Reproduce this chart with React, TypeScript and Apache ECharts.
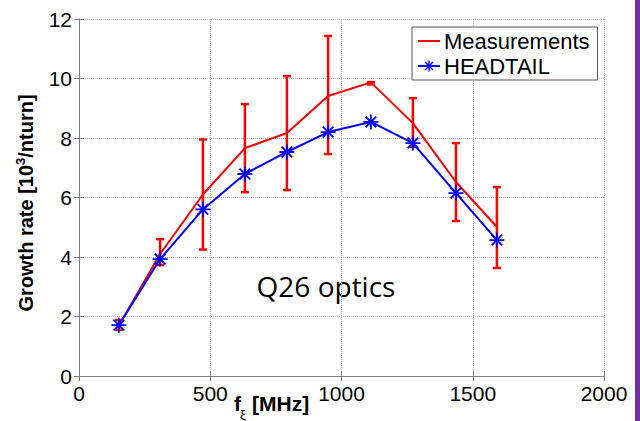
import React, { useEffect, useRef } from "react";
import * as echarts from "echarts";

const freqs = [152, 309, 472, 632, 792, 949, 1112, 1272, 1436, 1592];
const measured = [1.7, 4.1, 6.1, 7.66, 8.17, 9.41, 9.87, 8.5, 6.52, 5.01];
const errLow = [1.55, 3.73, 4.25, 6.18, 6.25, 7.46, 9.8, 7.7, 5.21, 3.63];
const errHigh = [1.88, 4.6, 7.95, 9.14, 10.08, 11.43, 9.88, 9.34, 7.83, 6.35];
const headtail = [1.71, 3.93, 5.6, 6.79, 7.53, 8.2, 8.54, 7.83, 6.15, 4.57];

const STAR =
  "path://M8.8 0L11.2 0L11.2 20L8.8 20Z M0 8.8L20 8.8L20 11.2L0 11.2Z " +
  "M3.75 2.05L17.95 16.25L16.25 17.95L2.05 3.75Z " +
  "M16.25 2.05L17.95 3.75L3.75 17.95L2.05 16.25Z";

const LINE_ICON =
  "path://M0 0L0.01 0L0.01 0.01Z M0 6L22 6L22 8L0 8Z M21.99 13.99L22 14L21.99 14Z";

export default function App() {
  const ref = useRef<HTMLDivElement>(null);
  useEffect(() => {
    if (!ref.current) return;
    const chart = echarts.init(ref.current, null, { renderer: "svg" });
    const tickFont = { fontFamily: "Liberation Sans, Arial, sans-serif", fontSize: 21, color: "#000" };
    const axisLine = { show: true, lineStyle: { color: "#7f7f7f", width: 1 } };
    const option: any = {
      animation: false,
      backgroundColor: "#fff",
      grid: { left: 79, right: 36, top: 19, bottom: 45, containLabel: false },
      legend: {
        orient: "vertical",
        left: 412,
        top: 27,
        width: 179,
        padding: [3, 8, 3, 5],
        itemGap: 3,
        itemWidth: 22,
        itemHeight: 14,
        backgroundColor: "#fff",
        borderColor: "#555",
        borderWidth: 1,
        borderRadius: 0,
        data: [{ name: "Measurements", icon: LINE_ICON }, { name: "HEADTAIL" }],
        textStyle: { fontFamily: "Liberation Sans, Arial, sans-serif", fontSize: 22, color: "#000", padding: [0, 0, 0, -1] },
      },
      xAxis: [
        {
          type: "value",
          min: 0,
          max: 2000,
          interval: 500,
          position: "bottom",
          axisLine,
          axisTick: { show: true, inside: true, length: 5, lineStyle: { color: "#7f7f7f" } },
          axisLabel: { ...tickFont, margin: 7, formatter: (v: number) => String(v) },
          splitLine: { show: true, lineStyle: { type: "dotted", color: "#b8b8b8", width: 1 } },
        },
        {
          type: "value",
          min: 0,
          max: 2000,
          interval: 500,
          position: "top",
          axisLine,
          axisTick: { show: true, inside: true, length: 5, lineStyle: { color: "#7f7f7f" } },
          axisLabel: { show: false },
          splitLine: { show: false },
        },
      ],
      yAxis: [
        {
          type: "value",
          min: 0,
          max: 12,
          interval: 2,
          position: "left",
          axisLine,
          axisTick: { show: true, inside: true, length: 5, lineStyle: { color: "#7f7f7f" } },
          axisLabel: { ...tickFont, margin: 7, formatter: (v: number) => String(v) },
          splitLine: { show: true, lineStyle: { type: "dotted", color: "#b8b8b8", width: 1 } },
        },
        {
          type: "value",
          min: 0,
          max: 12,
          interval: 2,
          position: "right",
          axisLine,
          axisTick: { show: true, inside: true, length: 5, lineStyle: { color: "#7f7f7f" } },
          axisLabel: { show: false },
          splitLine: { show: false },
        },
      ],
      series: [
        {
          name: "err",
          type: "custom",
          xAxisIndex: 0,
          yAxisIndex: 0,
          data: freqs.map((f, i) => [f, errLow[i], errHigh[i]]),
          renderItem: (params: any, api: any) => {
            const lo = api.coord([api.value(0), api.value(1)]);
            const hi = api.coord([api.value(0), api.value(2)]);
            const hw = 4;
            const style = { stroke: "#ff0000", lineWidth: 2.5 };
            return {
              type: "group",
              children: [
                { type: "line", shape: { x1: lo[0], y1: lo[1], x2: hi[0], y2: hi[1] }, style },
                { type: "line", shape: { x1: lo[0] - hw, y1: lo[1], x2: lo[0] + hw, y2: lo[1] }, style },
                { type: "line", shape: { x1: hi[0] - hw, y1: hi[1], x2: hi[0] + hw, y2: hi[1] }, style },
              ],
            };
          },
          z: 2,
        },
        {
          name: "Measurements",
          type: "line",
          data: freqs.map((f, i) => [f, measured[i]]),
          symbol: "none",
          lineStyle: { color: "#ff0000", width: 2 },
          itemStyle: { color: "#ff0000" },
          z: 3,
        },
        {
          name: "HEADTAIL",
          type: "line",
          data: freqs.map((f, i) => [f, headtail[i]]),
          symbol: STAR,
          symbolSize: 15,
          lineStyle: { color: "#0000ff", width: 2 },
          itemStyle: { color: "#0000ff" },
          z: 4,
        },
      ],
      graphic: [
        {
          type: "text",
          x: 26,
          y: 203,
          rotation: Math.PI / 2,
          style: {
            text: "{a|Growth rate [10}{s|3}{a|/nturn]}",
            textAlign: "center",
            textVerticalAlign: "middle",
            rich: {
              a: { fontFamily: "Liberation Sans, Arial, sans-serif", fontSize: 20, fontWeight: "bold", fill: "#000", lineHeight: 24 },
              s: { fontFamily: "Liberation Sans, Arial, sans-serif", fontSize: 13, fontWeight: "bold", fill: "#000", verticalAlign: "top", lineHeight: 24, padding: [0, 0, 10, 0] },
            },
          },
        },
        {
          type: "text",
          x: 234,
          y: 403,
          style: {
            text: "f",
            fontFamily: "Liberation Sans, Arial, sans-serif",
            fontSize: 21,
            fontWeight: "bold",
            fill: "#000",
            textVerticalAlign: "middle",
          },
        },
        {
          type: "text",
          x: 240,
          y: 414,
          style: {
            text: "ξ",
            fontFamily: "Liberation Sans, Arial, sans-serif",
            fontSize: 13,
            fill: "#000",
            textVerticalAlign: "middle",
          },
        },
        {
          type: "text",
          x: 252,
          y: 403,
          style: {
            text: "[MHz]",
            fontFamily: "Liberation Sans, Arial, sans-serif",
            fontSize: 21,
            fontWeight: "bold",
            fill: "#000",
            textVerticalAlign: "middle",
          },
        },
        {
          type: "text",
          x: 326,
          y: 286,
          style: {
            text: "Q26 optics",
            fontFamily: "Open Sans, sans-serif",
            fontSize: 28,
            fill: "#000",
            textAlign: "center",
            textVerticalAlign: "middle",
          },
        },
        {
          type: "rect",
          shape: { x: 635, y: 0, width: 5, height: 421 },
          style: { fill: "#7030a0" },
        },
      ],
    };
    chart.setOption(option);
    return () => chart.dispose();
  }, []);
  return (
    <div
      ref={ref}
      style={{ position: "fixed", left: 0, top: 0, width: 640, height: 421, background: "#fff" }}
    />
  );
}
